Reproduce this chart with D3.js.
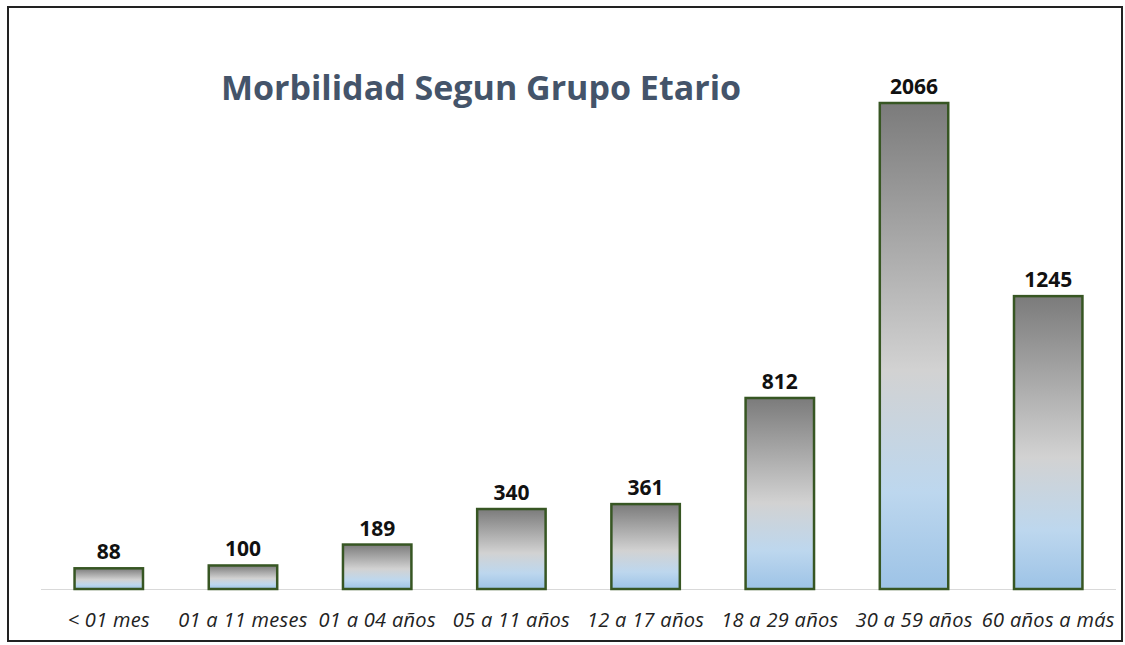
<!DOCTYPE html>
<html>
<head>
<meta charset="utf-8">
<script src="https://cdn.jsdelivr.net/npm/d3@7"></script>
<style>
  body { margin: 0; background: #fff; }
  svg { display: block; }
</style>
</head>
<body>
<div class="chart"></div>
<script>
// Data
const categories = ["< 01 mes", "01 a 11 meses", "01 a 04 años", "05 a 11 años",
                    "12 a 17 años", "18 a 29 años", "30 a 59 años", "60 años a más"];
const cases = [88, 100, 189, 340, 361, 812, 2066, 1245];
const title = "Morbilidad Segun Grupo Etario";

const width = 1125, height = 645;
const plot = { left: 41, right: 1116, top: 103, bottom: 589 };

const svg = d3.select(".chart").append("svg")
    .attr("width", width)
    .attr("height", height);

// outer frame
svg.append("rect")
    .attr("x", 8).attr("y", 7)
    .attr("width", 1114).attr("height", 634)
    .attr("fill", "#fff")
    .attr("stroke", "#222")
    .attr("stroke-width", 2);

// gradient used by every bar
const grad = svg.append("defs").append("linearGradient")
    .attr("id", "barFill")
    .attr("x1", 0).attr("y1", 0).attr("x2", 0).attr("y2", 1);
grad.append("stop").attr("offset", "0%").attr("stop-color", "#7b7b7b");
grad.append("stop").attr("offset", "55%").attr("stop-color", "#d2d2d2");
grad.append("stop").attr("offset", "80%").attr("stop-color", "#bdd7ee");
grad.append("stop").attr("offset", "100%").attr("stop-color", "#9dc3e6");

const xScale = d3.scaleBand()
    .domain(categories)
    .range([plot.left, plot.right])
    .paddingInner(0.49)
    .paddingOuter(0.25);

const yScale = d3.scaleLinear()
    .domain([0, 2066])
    .range([plot.bottom, plot.top]);

// title
svg.append("text")
    .attr("x", 481).attr("y", 100)
    .attr("text-anchor", "middle")
    .attr("font-family", "Open Sans, sans-serif")
    .attr("font-weight", "bold")
    .attr("font-size", 34)
    .attr("fill", "#44546a")
    .text(title);

// baseline
svg.append("line")
    .attr("x1", plot.left).attr("x2", plot.right)
    .attr("y1", plot.bottom + 0.5).attr("y2", plot.bottom + 0.5)
    .attr("stroke", "#d9d9d9")
    .attr("stroke-width", 1);

// bars
svg.append("g").selectAll("rect")
    .data(cases)
    .enter()
    .append("rect")
        .attr("x", (d, i) => xScale(categories[i]))
        .attr("y", d => yScale(d))
        .attr("width", xScale.bandwidth())
        .attr("height", d => plot.bottom - yScale(d))
        .attr("fill", "url(#barFill)")
        .attr("stroke", "#375623")
        .attr("stroke-width", 2.5);

// value labels
svg.append("g").selectAll("text")
    .data(cases)
    .enter()
    .append("text")
        .attr("x", (d, i) => xScale(categories[i]) + xScale.bandwidth() / 2)
        .attr("y", d => yScale(d) - 9)
        .attr("text-anchor", "middle")
        .attr("font-family", "Open Sans, sans-serif")
        .attr("font-weight", "bold")
        .attr("font-size", 21)
        .attr("fill", "#111")
        .text(d => d);

// category axis labels
const xAxis = svg.append("g")
    .attr("transform", "translate(0," + plot.bottom + ")")
    .call(d3.axisBottom(xScale).tickSize(0).tickPadding(24));
xAxis.select(".domain").remove();
xAxis.selectAll("text")
    .attr("font-family", "Open Sans, sans-serif")
    .attr("font-style", "italic")
    .attr("font-size", 20)
    .attr("letter-spacing", 0.3)
    .attr("fill", "#222");
</script>
</body>
</html>
